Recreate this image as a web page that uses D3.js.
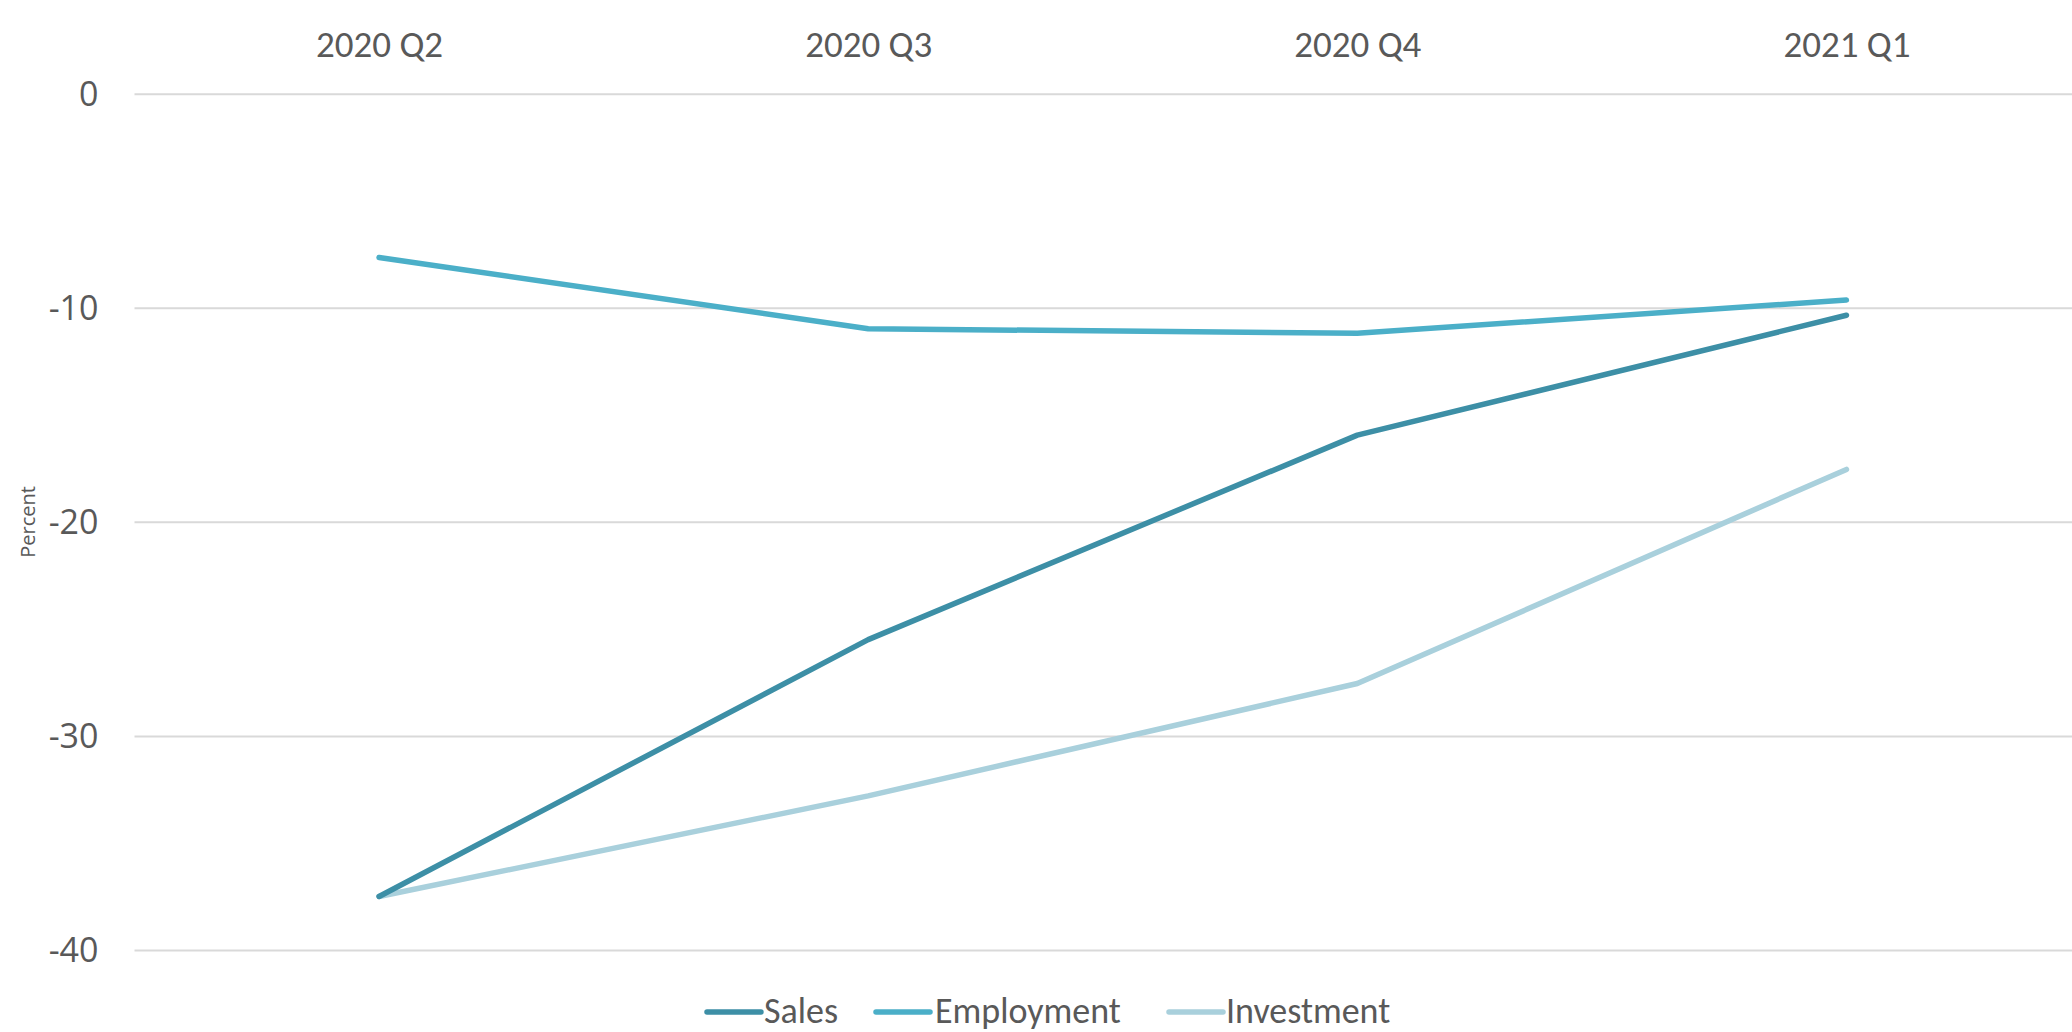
<!DOCTYPE html>
<html>
<head>
<meta charset="utf-8">
<script src="https://cdn.jsdelivr.net/npm/d3@7"></script>
<style>
  html, body { margin: 0; padding: 0; background: #ffffff; }
  svg { display: block; }
</style>
</head>
<body>
<svg id="chart" width="2072" height="1032"></svg>
<script>
// ---- data ----
const categories = ["2020 Q2", "2020 Q3", "2020 Q4", "2021 Q1"];
const salesValues = [-37.5, -25.5, -15.95, -10.35];
const employmentValues = [-7.65, -10.98, -11.19, -9.64];
const investmentValues = [-37.5, -32.8, -27.55, -17.55];
const seriesNames = ["Sales", "Employment", "Investment"];
const yTickValues = [0, -10, -20, -30, -40];
const yTickLabels = ["0", "-10", "-20", "-30", "-40"];
const yAxisTitle = "Percent";

// ---- style ----
const colors = { "Sales": "#3d8fa6", "Employment": "#4bafc8", "Investment": "#a9d0dc" };
const textColor = "#595959";
const gridColor = "#d9d9d9";
const catFont = "Carlito, 'Liberation Sans Narrow', 'Open Sans', sans-serif";
const numFont = "'Open Sans', 'Noto Sans', sans-serif";

const series = [
  { name: seriesNames[0], values: salesValues },
  { name: seriesNames[1], values: employmentValues },
  { name: seriesNames[2], values: investmentValues }
];

const svg = d3.select("#chart");
const W = 2072, H = 1032;

const plotLeft = 134.5, plotRight = 2091;
const x = d3.scalePoint().domain(categories).range([plotLeft, plotRight]).padding(0.5);
const y = d3.scaleLinear().domain([-40, 0]).range([950, 93.7]);

// gridlines + y labels
const yAxis = d3.axisLeft(y)
  .tickValues(yTickValues)
  .tickSize(-(W - plotLeft))
  .tickPadding(36)
  .tickFormat((d, i) => yTickLabels[i]);

const gy = svg.append("g")
  .attr("transform", `translate(${plotLeft},0)`)
  .call(yAxis);
gy.select(".domain").remove();
gy.selectAll(".tick line").attr("stroke", gridColor).attr("stroke-width", 2);
gy.selectAll(".tick text")
  .attr("fill", textColor)
  .attr("font-family", numFont)
  .attr("font-size", 34)
  .attr("dy", "0.34em");

// top category axis
const xAxis = d3.axisTop(x).tickSize(0).tickPadding(0);
const gx = svg.append("g")
  .attr("transform", `translate(0,57)`)
  .call(xAxis);
gx.select(".domain").remove();
gx.selectAll(".tick text")
  .attr("fill", textColor)
  .attr("font-family", catFont)
  .attr("font-size", 37)
  .attr("dy", 0);

// y axis title
svg.append("text")
  .attr("transform", `translate(27,${y(-20)}) rotate(-90)`)
  .attr("text-anchor", "middle")
  .attr("dominant-baseline", "central")
  .attr("fill", textColor)
  .attr("font-family", numFont)
  .attr("font-size", 20)
  .text(yAxisTitle);

// lines
const line = d3.line()
  .x((d, i) => x(categories[i]))
  .y(d => y(d));

svg.append("g").selectAll("path")
  .data(series.slice().reverse())
  .join("path")
  .attr("d", d => line(d.values))
  .attr("fill", "none")
  .attr("stroke", d => colors[d.name])
  .attr("stroke-width", 5.5)
  .attr("stroke-linecap", "round")
  .attr("stroke-linejoin", "round");

// legend
const legendItems = [
  { name: seriesNames[0], lx: 707, tx: 764 },
  { name: seriesNames[1], lx: 876, tx: 935 },
  { name: seriesNames[2], lx: 1169, tx: 1226 }
];
const lg = svg.append("g");
legendItems.forEach(it => {
  lg.append("line")
    .attr("x1", it.lx).attr("x2", it.lx + 54)
    .attr("y1", 1012).attr("y2", 1012)
    .attr("stroke", colors[it.name])
    .attr("stroke-width", 5.5)
    .attr("stroke-linecap", "round");
  lg.append("text")
    .attr("x", it.tx).attr("y", 1023)
    .attr("fill", textColor)
    .attr("font-family", catFont)
    .attr("font-size", 36)
    .text(it.name);
});
</script>
</body>
</html>
